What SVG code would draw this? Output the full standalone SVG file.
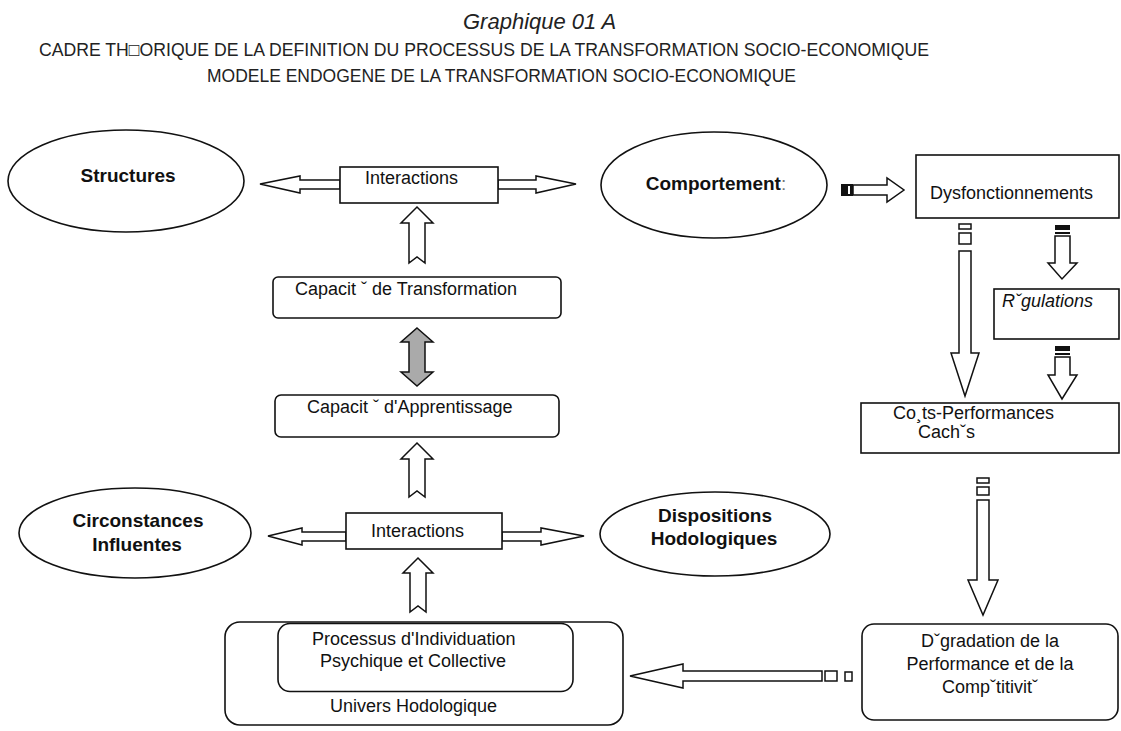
<svg xmlns="http://www.w3.org/2000/svg" width="1121" height="731" viewBox="0 0 1121 731">
  <style>
    .box { fill: #fff; stroke: #111; stroke-width: 1.6; }
    .arrow { fill: #fff; stroke: #111; stroke-width: 1.5; stroke-linejoin: miter; }
    .grey { fill: #aaa; }
    .solid { fill: #111; stroke: none; }
    .t { font-family: "Liberation Sans", Arial, sans-serif; font-size: 18px; fill: #111; }
    .b { font-weight: bold; font-size: 19px; }
    .c { text-anchor: middle; }
    .h { font-family: "Liberation Sans", Arial, sans-serif; fill: #222; }
  </style>
  <rect width="1121" height="731" fill="#fff"/>

  <!-- headings (narrow capitals) -->
  <g id="heading">
    <text class="h" x="463" y="29" font-size="22" font-style="italic">Graphique 01 A</text>
    <text class="h" x="39" y="56" font-size="18.5" textLength="890" lengthAdjust="spacingAndGlyphs">CADRE TH□ORIQUE DE LA DEFINITION DU PROCESSUS DE LA TRANSFORMATION SOCIO-ECONOMIQUE</text>
    <text class="h" x="207" y="82" font-size="18.5" textLength="589" lengthAdjust="spacingAndGlyphs">MODELE ENDOGENE DE LA TRANSFORMATION SOCIO-ECONOMIQUE</text>
  </g>

  <!-- connectors -->
  <g id="connectors">
    <!-- upper interactions, two-way -->
    <polygon class="arrow" points="260,184 300,176 300,180 340,180 340,189 300,189 300,193"/>
    <polygon class="arrow" points="498,180 536,180 536,176 576,184 536,193 536,189 498,189"/>
    <!-- transformation capacity up to interactions -->
    <polygon class="arrow" points="417,207 433,223 425,223 425,263 417,257 409,263 409,223 401,223"/>
    <!-- transformation / learning, two-way grey -->
    <polygon class="arrow grey" points="417,328 433,342 425,342 425,372 433,372 417,386 401,372 409,372 409,342 401,342"/>
    <!-- lower interactions up to learning capacity -->
    <polygon class="arrow" points="417,443 433,459 425,459 425,497 417,491 409,497 409,459 401,459"/>
    <!-- lower interactions, two-way -->
    <polygon class="arrow" points="268,536 302,528 302,532 346,532 346,541 302,541 302,545"/>
    <polygon class="arrow" points="502,532 541,532 541,528 584,536 541,545 541,541 502,541"/>
    <!-- individuation up to lower interactions -->
    <polygon class="arrow" points="418,558 433,573 426,573 426,612 418,606 410,612 410,573 403,573"/>

    <!-- behaviour to dysfunctions -->
    <rect class="solid" x="841" y="184" width="12" height="12"/>
    <rect x="848" y="186" width="2" height="8" fill="#fff"/>
    <polygon class="arrow" points="853,185 887,185 887,178 904,190 887,202 887,195 853,195"/>

    <!-- dysfunctions down to hidden costs -->
    <rect class="arrow" x="959" y="224" width="12" height="5"/>
    <rect class="arrow" x="959" y="233" width="12" height="11"/>
    <polygon class="arrow" points="959,251 971,251 971,353 979,353 965,396 951,353 959,353"/>

    <!-- dysfunctions down to regulations -->
    <rect class="solid" x="1055" y="225" width="15" height="5"/>
    <rect class="solid" x="1055" y="232" width="15" height="2"/>
    <polygon class="arrow" points="1055,236 1070,236 1070,263 1077,263 1062,279 1048,263 1055,263"/>

    <!-- regulations down to hidden costs -->
    <rect class="solid" x="1055" y="346" width="15" height="5"/>
    <rect class="solid" x="1055" y="353" width="15" height="2"/>
    <polygon class="arrow" points="1055,357 1070,357 1070,375 1077,375 1062,399 1048,375 1055,375"/>

    <!-- hidden costs down to degradation -->
    <rect class="arrow" x="977" y="478" width="12" height="5"/>
    <rect class="arrow" x="977" y="487" width="12" height="8"/>
    <polygon class="arrow" points="977,500 989,500 989,580 998,580 983,615 968,580 977,580"/>

    <!-- degradation back to the hodological universe -->
    <rect class="arrow" x="845" y="672" width="7" height="9"/>
    <rect class="arrow" x="825" y="671" width="12" height="10"/>
    <polygon class="arrow" points="630,676 683,664 683,671 822,671 822,681 683,681 683,688"/>
  </g>

  <!-- nodes -->
  <g id="structures">
    <ellipse class="box" cx="126" cy="181" rx="118" ry="51"/>
    <text class="t b c" x="128" y="182">Structures</text>
  </g>

  <g id="interactions-top">
    <rect class="box" x="340" y="167" width="158" height="36"/>
    <text class="t" x="365" y="184">Interactions</text>
  </g>

  <g id="comportements">
    <ellipse class="box" cx="714" cy="185" rx="113" ry="53"/>
    <text class="t b c" x="716" y="190">Comportement<tspan font-weight="normal" fill="#777">:</tspan></text>
  </g>

  <g id="dysfonctionnements">
    <rect class="box" x="916" y="155" width="203" height="63"/>
    <text class="t" x="930" y="199">Dysfonctionnements</text>
  </g>

  <g id="capacite-transformation">
    <rect class="box" x="273" y="277" width="288" height="41" rx="5"/>
    <text class="t" x="295" y="295">Capacit ˇ de Transformation</text>
  </g>

  <g id="capacite-apprentissage">
    <rect class="box" x="275" y="395" width="284" height="42" rx="6"/>
    <text class="t" x="307" y="413">Capacit ˇ d'Apprentissage</text>
  </g>

  <g id="regulations">
    <rect class="box" x="994" y="289" width="125" height="50"/>
    <text class="t" x="1002" y="307" font-style="italic">Rˇgulations</text>
  </g>

  <g id="couts-performances">
    <rect class="box" x="861" y="403" width="258" height="50"/>
    <text class="t" x="893" y="419" font-size="17.5">Co¸ts-Performances</text>
    <text class="t" x="918" y="438" font-size="17.5">Cachˇs</text>
  </g>

  <g id="circonstances">
    <ellipse class="box" cx="135" cy="533" rx="116" ry="45"/>
    <text class="t b c" x="138" y="527">Circonstances</text>
    <text class="t b c" x="137" y="551">Influentes</text>
  </g>

  <g id="interactions-bottom">
    <rect class="box" x="346" y="513" width="156" height="36"/>
    <text class="t" x="371" y="537">Interactions</text>
  </g>

  <g id="dispositions">
    <ellipse class="box" cx="715" cy="534" rx="115" ry="42"/>
    <text class="t b c" x="715" y="522">Dispositions</text>
    <text class="t b c" x="714" y="545">Hodologiques</text>
  </g>

  <g id="univers-hodologique">
    <rect class="box" x="225" y="622" width="398" height="103" rx="15"/>
    <text class="t" x="330" y="712">Univers Hodologique</text>
  </g>

  <g id="processus-individuation">
    <rect class="box" x="278" y="623.5" width="295" height="68" rx="12"/>
    <text class="t" x="312" y="645">Processus d'Individuation</text>
    <text class="t" x="320" y="667">Psychique et Collective</text>
  </g>

  <g id="degradation">
    <rect class="box" x="862" y="624" width="256" height="96" rx="12"/>
    <text class="t c" x="990" y="647">Dˇgradation de la</text>
    <text class="t c" x="990" y="670">Performance et de la</text>
    <text class="t c" x="990" y="693">Compˇtitivitˇ</text>
  </g>
</svg>
